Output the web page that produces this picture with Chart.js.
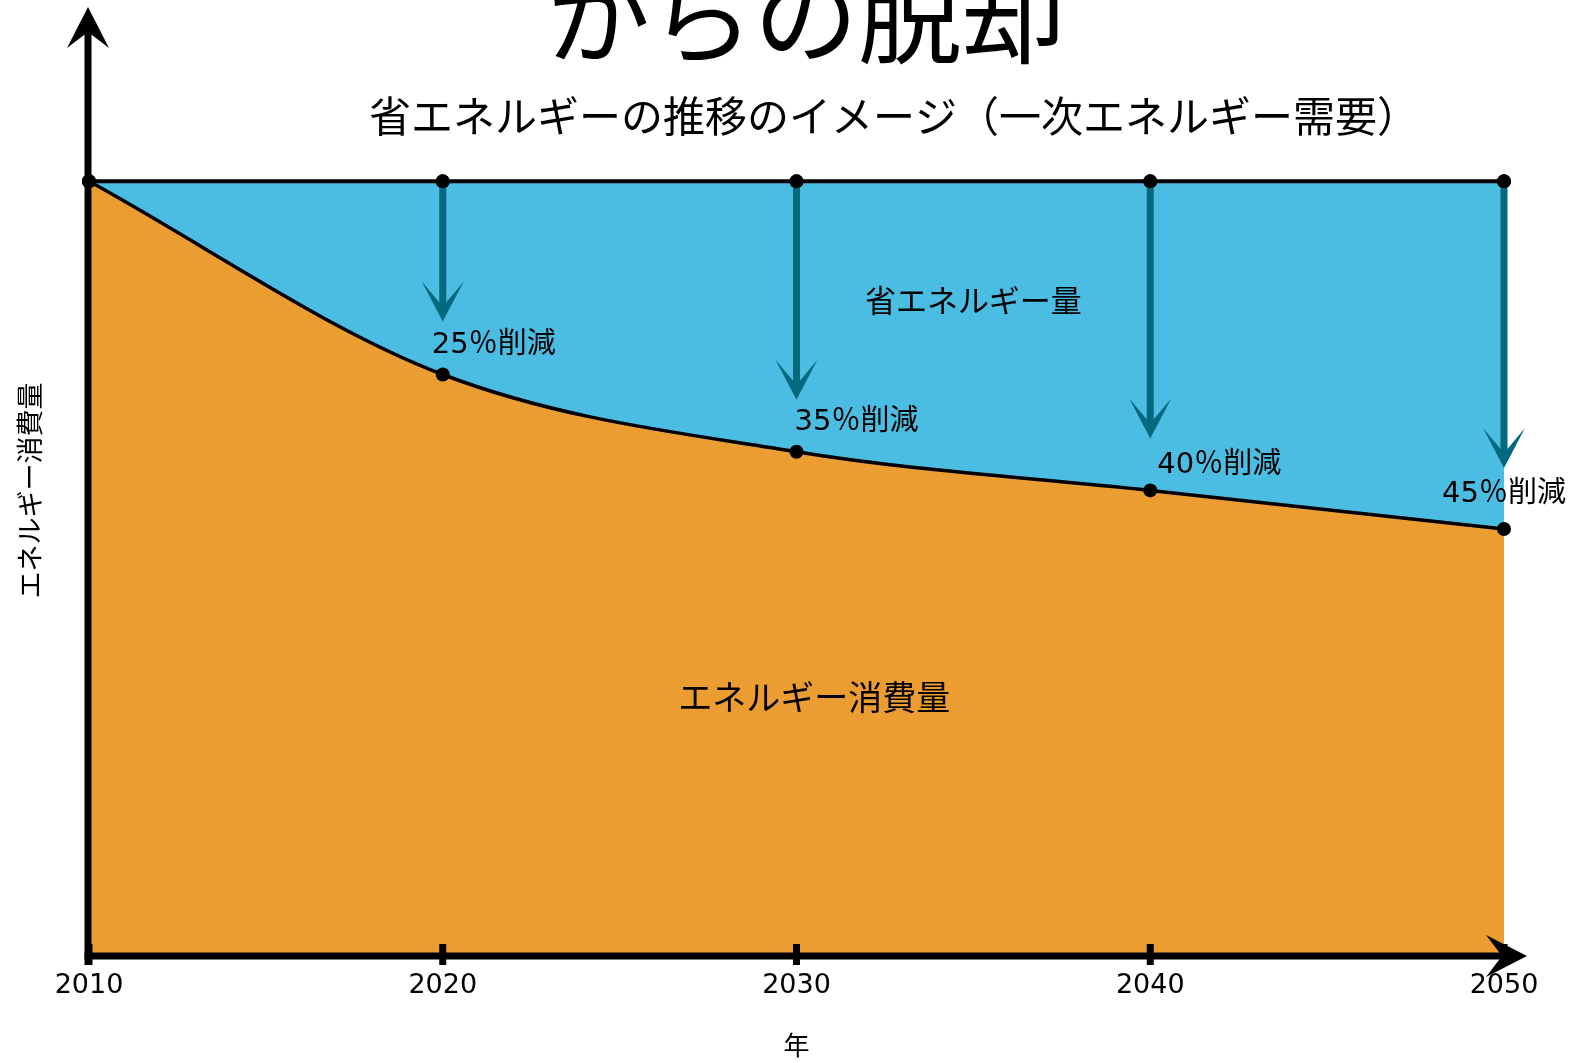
<!DOCTYPE html>
<html><head><meta charset="utf-8">
<script src="https://cdn.jsdelivr.net/npm/chart.js@4"></script>
<style>html,body{margin:0;padding:0;background:#fff;overflow:hidden;} #wrap{width:1570px;height:1063px;}</style>
</head><body><div id="wrap"><canvas id="c" width="1570" height="1063"></canvas></div>
<script>
const years = [2010, 2020, 2030, 2040, 2050];
const baseline = [100, 100, 100, 100, 100];
const consumption = [100, 75, 65, 60, 55];
const reductions = [null, 25, 35, 40, 45];
const xTicks = [2010, 2020, 2030, 2040, 2050];
const titleText = 'からの脱却';
const subtitleText = '省エネルギーの推移のイメージ（一次エネルギー需要）';
const savingLabel = '省エネルギー量';
const consumptionLabel = 'エネルギー消費量';
const yAxisTitle = 'エネルギー消費量';
const xAxisTitle = '年';

const BLUE = '#4BBDE3';
const ORANGE = '#EC9D31';
const TEAL = '#03697E';
const JP = "'Noto Sans CJK JP', 'Noto Sans', sans-serif";
const NUM = "'DejaVu Sans', 'Noto Sans CJK JP', sans-serif";

const decorPlugin = {
  id: 'decor',
  afterDatasetsDraw(chart) {
    const {ctx, chartArea, scales: {x, y}} = chart;
    ctx.save();
    // axes
    const ax = chartArea.left - 1;
    const ay = chartArea.bottom + 2;
    ctx.fillStyle = '#000';
    ctx.strokeStyle = '#000';
    ctx.lineWidth = 7;
    ctx.lineCap = 'butt';
    ctx.beginPath();
    ctx.moveTo(ax, ay + 9);
    ctx.lineTo(ax, 30);
    ctx.stroke();
    ctx.beginPath();
    ctx.moveTo(ax, 7); ctx.lineTo(ax - 21, 48); ctx.lineTo(ax, 32); ctx.lineTo(ax + 21, 48); ctx.closePath();
    ctx.fill();
    const xr = chartArea.right;
    ctx.beginPath();
    ctx.moveTo(ax - 3.5, ay);
    ctx.lineTo(xr, ay);
    ctx.stroke();
    ctx.beginPath();
    ctx.moveTo(xr + 23, ay); ctx.lineTo(xr - 18, ay - 21); ctx.lineTo(xr - 2, ay); ctx.lineTo(xr - 18, ay + 21); ctx.closePath();
    ctx.fill();
    xTicks.forEach(v => {
      const px = x.getPixelForValue(v);
      ctx.beginPath();
      ctx.moveTo(px, ay - 12);
      ctx.lineTo(px, ay + 9);
      ctx.stroke();
    });

    // reduction arrows
    const top = chart.getDatasetMeta(0).data;
    const cur = chart.getDatasetMeta(1).data;
    const gaps = [0, 53, 52, 52, 61];
    const labelOff = [[0,0], [-11,-31], [-2,-31], [7,-27], [-62,-37]];
    ctx.fillStyle = TEAL; ctx.strokeStyle = TEAL;
    reductions.forEach((r, i) => {
      if (r == null) return;
      const px = top[i].x, py = top[i].y;
      const tipY = cur[i].y - gaps[i];
      ctx.lineWidth = 7;
      ctx.beginPath(); ctx.moveTo(px, py); ctx.lineTo(px, tipY - 14); ctx.stroke();
      ctx.beginPath();
      ctx.moveTo(px, tipY); ctx.lineTo(px - 21, tipY - 40); ctx.lineTo(px, tipY - 15); ctx.lineTo(px + 21, tipY - 40); ctx.closePath();
      ctx.fill();
    });
    // redraw top points above arrows
    ctx.fillStyle = '#000';
    top.forEach(p => { ctx.beginPath(); ctx.arc(p.x, p.y, 7, 0, Math.PI * 2); ctx.fill(); });

    // reduction labels
    ctx.font = '29px ' + NUM;
    ctx.textAlign = 'left'; ctx.textBaseline = 'middle';
    reductions.forEach((r, i) => {
      if (r == null) return;
      ctx.fillText(r + '％削減', cur[i].x + labelOff[i][0], cur[i].y + labelOff[i][1] + 2);
    });

    // area labels
    ctx.textAlign = 'center';
    ctx.font = '31px ' + JP;
    ctx.fillText(savingLabel, x.getPixelForValue(2035), y.getPixelForValue(84.6));
    ctx.font = '34px ' + JP;
    ctx.fillText(consumptionLabel, x.getPixelForValue(2030.5), y.getPixelForValue(33.3));

    // titles
    ctx.font = '104px ' + JP;
    ctx.textBaseline = 'alphabetic';
    ctx.fillText(titleText, 806, 56);
    ctx.font = '42px ' + JP;
    ctx.textBaseline = 'middle';
    ctx.fillText(subtitleText, 894, 116);
    ctx.restore();
  }
};

new Chart(document.getElementById('c'), {
  type: 'line',
  data: {
    labels: years,
    datasets: [
      {
        label: '基準',
        data: years.map((yr, i) => ({x: yr, y: baseline[i]})),
        borderColor: '#000', borderWidth: 4,
        pointRadius: 7, pointBackgroundColor: '#000', pointBorderWidth: 0,
        backgroundColor: BLUE, fill: '+1', tension: 0, clip: false, order: 2
      },
      {
        label: consumptionLabel,
        data: years.map((yr, i) => ({x: yr, y: consumption[i]})),
        borderColor: '#000', borderWidth: 3.5,
        pointRadius: 7, pointBackgroundColor: '#000', pointBorderWidth: 0,
        backgroundColor: ORANGE, fill: 'origin', cubicInterpolationMode: 'monotone', clip: false, order: 1
      }
    ]
  },
  options: {
    responsive: false,
    animation: false,
    devicePixelRatio: 1,
    layout: { padding: { top: 26.8, left: 0, right: 66, bottom: 0 } },
    plugins: { legend: { display: false }, tooltip: { enabled: false }, title: { display: false } },
    scales: {
      x: {
        type: 'linear', min: 2010, max: 2050,
        afterBuildTicks: (s) => { s.ticks = xTicks.map(v => ({value: v})); },
        afterFit: (s) => { s.height = 109; },
        grid: { display: false }, border: { display: false },
        ticks: { color: '#000', font: { family: NUM, size: 27 }, padding: 8, callback: v => String(v), maxRotation: 0, autoSkip: false },
        title: { display: true, text: xAxisTitle, color: '#000', font: { family: JP, size: 26 }, padding: { top: 20, bottom: 2.4 } }
      },
      y: {
        min: 0, max: 120,
        grid: { display: false }, border: { display: false },
        ticks: { display: false },
        title: { display: true, text: yAxisTitle, color: '#000', font: { family: JP, size: 27 }, padding: { top: 13.8, bottom: 34.8 } }
      }
    }
  },
  plugins: [decorPlugin]
});
</script></body></html>
